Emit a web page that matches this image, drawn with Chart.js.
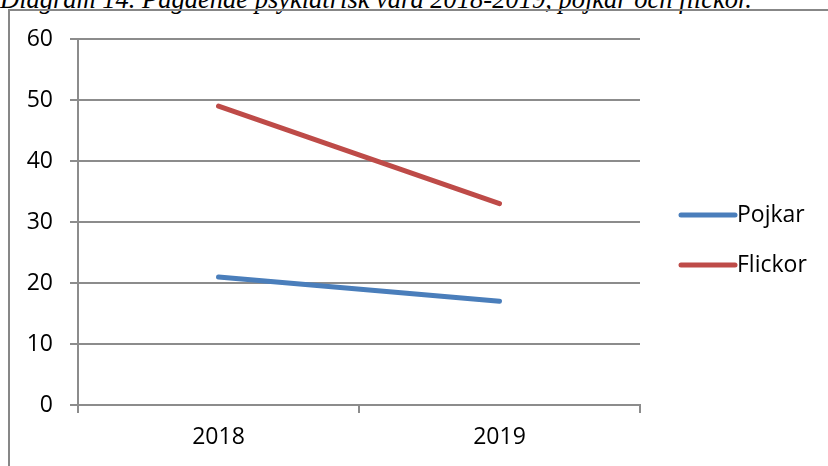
<!DOCTYPE html>
<html lang="sv">
<head>
    <meta charset="UTF-8">
    <title>Diagram 14</title>
    <script src="https://cdn.jsdelivr.net/npm/chart.js"></script>
    <style>
        * {
            box-sizing: border-box;
            margin: 0;
            padding: 0;
        }

        body {
            width: 828px;
            height: 466px;
            overflow: hidden;
            background: #FFFFFF;
            position: relative;
            font-family: "Open Sans", sans-serif;
        }

        .diagram-title {
            position: absolute;
            left: 0;
            top: -13px;
            font-family: "Liberation Serif", "Times New Roman", serif;
            font-style: italic;
            font-size: 26.5px;
            line-height: 24px;
            white-space: nowrap;
            color: #000000;
        }

        .chart-frame {
            position: absolute;
            left: 8px;
            top: 9px;
            width: 900px;
            height: 600px;
            border: 2px solid #878787;
        }

        .chart-container {
            position: absolute;
            left: 0;
            top: 0;
            width: 828px;
            height: 466px;
        }
    </style>
</head>
<body>
    <div class="diagram-title">Diagram 14. Pågående psykiatrisk vård 2018-2019, pojkar och flickor.</div>
    <div class="chart-frame"></div>
    <div class="chart-container">
        <canvas id="careChart"></canvas>
    </div>

    <script>
        const years = ['2018', '2019'];
        const pojkar = [21, 17];
        const flickor = [49, 33];
        const seriesNames = ['Pojkar', 'Flickor'];
        const yTicks = [0, 10, 20, 30, 40, 50, 60];

        const gridColor = '#8C8C8C';
        const labelFont = { family: '"Open Sans", sans-serif', size: 23 };

        // legend drawn by hand so it sits where the original one does
        const sideLegend = {
            id: 'sideLegend',
            afterDraw(chart) {
                const ctx = chart.ctx;
                ctx.save();
                ctx.font = '23px "Open Sans", sans-serif';
                ctx.textBaseline = 'middle';
                ctx.textAlign = 'left';
                chart.data.datasets.forEach((ds, i) => {
                    const y = 215 + i * 50;
                    ctx.strokeStyle = ds.borderColor;
                    ctx.lineWidth = 5;
                    ctx.lineCap = 'round';
                    ctx.beginPath();
                    ctx.moveTo(681, y);
                    ctx.lineTo(735, y);
                    ctx.stroke();
                    ctx.fillStyle = '#000000';
                    ctx.fillText(ds.label, 737, y);
                });
                ctx.restore();
            }
        };

        new Chart(document.getElementById('careChart'), {
            type: 'line',
            data: {
                labels: years,
                datasets: [
                    {
                        label: seriesNames[0],
                        data: pojkar,
                        borderColor: '#4A7EBB',
                        borderWidth: 5,
                        borderCapStyle: 'round',
                        pointRadius: 0,
                        fill: false
                    },
                    {
                        label: seriesNames[1],
                        data: flickor,
                        borderColor: '#BE4B48',
                        borderWidth: 5,
                        borderCapStyle: 'round',
                        pointRadius: 0,
                        fill: false
                    }
                ]
            },
            options: {
                responsive: true,
                maintainAspectRatio: false,
                animation: false,
                layout: {
                    padding: { top: 39, right: 188, bottom: 0, left: 0 }
                },
                plugins: {
                    legend: { display: false },
                    tooltip: { enabled: false }
                },
                scales: {
                    x: {
                        offset: true,
                        grid: {
                            offset: true,
                            drawOnChartArea: false,
                            drawTicks: true,
                            tickLength: 8,
                            color: gridColor,
                            lineWidth: 2
                        },
                        border: { color: gridColor, width: 2 },
                        ticks: {
                            color: '#000000',
                            font: labelFont,
                            padding: 11,
                            maxRotation: 0
                        },
                        afterFit(scale) { scale.height = 61; }
                    },
                    y: {
                        min: 0,
                        max: 60,
                        afterBuildTicks(scale) {
                            scale.ticks = yTicks.map(v => ({ value: v }));
                        },
                        grid: {
                            color: gridColor,
                            lineWidth: 2,
                            tickLength: 8
                        },
                        border: { color: gridColor, width: 2 },
                        ticks: {
                            color: '#000000',
                            font: labelFont,
                            padding: 17
                        },
                        afterFit(scale) { scale.width = 78; }
                    }
                }
            },
            plugins: [sideLegend]
        });
    </script>
</body>
</html>
